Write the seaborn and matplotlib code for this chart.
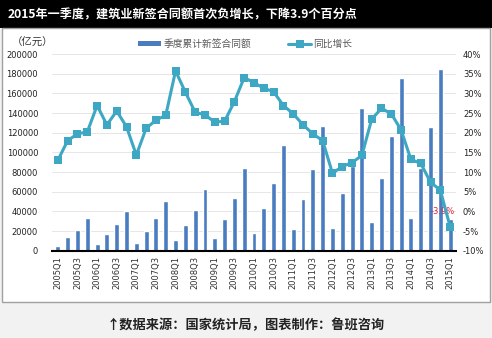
import matplotlib
matplotlib.use("Agg")
import matplotlib.pyplot as plt
from matplotlib.patches import Rectangle, Patch
from matplotlib.ticker import FuncFormatter
import seaborn as sns
import pandas as pd

quarters = ["2005Q1", "2005Q2", "2005Q3", "2005Q4", "2006Q1", "2006Q2", "2006Q3", "2006Q4",
            "2007Q1", "2007Q2", "2007Q3", "2007Q4", "2008Q1", "2008Q2", "2008Q3", "2008Q4",
            "2009Q1", "2009Q2", "2009Q3", "2009Q4", "2010Q1", "2010Q2", "2010Q3", "2010Q4",
            "2011Q1", "2011Q2", "2011Q3", "2011Q4", "2012Q1", "2012Q2", "2012Q3", "2012Q4",
            "2013Q1", "2013Q2", "2013Q3", "2013Q4", "2014Q1", "2014Q2", "2014Q3", "2014Q4",
            "2015Q1"]
contract = [5000, 13500, 21500, 33500, 6500, 16500, 26800, 40500,
            7800, 20000, 32900, 50500, 10500, 26100, 41000, 63000,
            12500, 32200, 53200, 84500, 17600, 43000, 69000, 107500,
            21700, 52200, 83000, 126800, 23400, 58300, 86100, 145400,
            29200, 73600, 117000, 175300, 33200, 83700, 125800, 184800,
            32000]
growth = [13.0, 18.0, 19.7, 20.2, 26.9, 22.0, 25.5, 21.5,
          14.3, 21.1, 23.2, 24.4, 35.7, 30.3, 25.2, 24.5,
          22.7, 22.9, 27.9, 34.0, 32.7, 31.3, 30.4, 26.9,
          24.8, 22.0, 19.7, 18.0, 9.7, 11.4, 12.4, 14.2,
          23.4, 26.2, 24.8, 20.7, 13.2, 12.2, 7.4, 5.4,
          -3.9]
title = "2015年一季度，建筑业新签合同额首次负增长，下降3.9个百分点"
footer = "↑数据来源：国家统计局，图表制作：鲁班咨询"
bar_label = "季度累计新签合同额"
line_label = "同比增长"
unit_label = "（亿元）"

BAR_C = "#4a7dc0"
LINE_C = "#3ea7c4"

sns.set_theme(style="white")
plt.rcParams['font.family'] = ['DejaVu Sans', 'Noto Sans CJK SC']
CJK = ['Noto Sans CJK SC', 'DejaVu Sans']

df = pd.DataFrame({"quarter": quarters, "contract": contract,
                   "growth": growth, "idx": range(len(quarters))})

W, H = 492, 338
fig = plt.figure(figsize=(W / 100, H / 100), dpi=100, facecolor="#f2f2f2")

# title band and chart panel (behind everything)
fig.patches.append(Rectangle((0, 1 - 28 / H), 1, 28 / H, transform=fig.transFigure,
                             facecolor="black", edgecolor="none", zorder=-5))
fig.patches.append(Rectangle((2 / W, 1 - 302 / H), 488 / W, 274 / H, transform=fig.transFigure,
                             facecolor="white", edgecolor="#a0a0a0", linewidth=1.0, zorder=-5))
fig.text(8 / W, 1 - 15 / H, title, color="white", fontsize=8.7, fontweight="bold",
         family=CJK, va="center", ha="left")
fig.text(0.5, 1 - 325 / H, footer, color="#222222", fontsize=9.5, fontweight="bold",
         family=CJK, va="center", ha="center")

ax = fig.add_axes([52 / W, 1 - 250.7 / H, 404 / W, (250.7 - 54) / H])
ax.set_facecolor("none")
sns.barplot(data=df, x="quarter", y="contract", color=BAR_C, saturation=1,
            width=0.5, ax=ax, zorder=2)
ax.set_ylim(0, 200000)
ax.set_yticks(range(0, 200001, 20000))
ax.set_xlim(-0.6, len(quarters) - 0.4)
ax.yaxis.grid(True, color="#e6e6e6", linewidth=0.7)
ax.set_axisbelow(True)
ax.set_xlabel("")
ax.set_ylabel("")
ax.set_xticks(range(0, len(quarters), 2))
ax.set_xticklabels(quarters[::2], rotation=90, fontsize=6, color="#333333")
ax.tick_params(axis="y", labelsize=6, colors="#222222", length=0, pad=10)
ax.tick_params(axis="x", length=0, pad=4)
for s in ["top", "right", "left"]:
    ax.spines[s].set_visible(False)
ax.spines["bottom"].set_color("black")
ax.spines["bottom"].set_linewidth(1.5)
ax.spines["bottom"].set_zorder(5)

ax2 = ax.twinx()
sns.lineplot(data=df, x="idx", y="growth", color=LINE_C, linewidth=2.2,
             marker="s", markersize=5.6, markeredgewidth=0, ax=ax2, zorder=4)
ax2.set_ylim(-10, 40)
ax2.set_yticks(range(-10, 41, 5))
ax2.yaxis.set_major_formatter(FuncFormatter(lambda v, p: f"{int(v)}%"))
ax2.tick_params(axis="y", labelsize=6, colors="#222222", length=0, pad=5)
ax2.set_ylabel("")
ax2.set_xlabel("")
for s in ["top", "right", "left", "bottom"]:
    ax2.spines[s].set_visible(False)
ax2.set_xlim(ax.get_xlim())

# annotation of last value
last = len(growth) - 1
ax2.annotate(f"{growth[last]}%", xy=(last, growth[last]), xytext=(-5, 11),
             textcoords="offset points", ha="center", va="center",
             color="#e0203a", fontsize=6)

# legend
line_h = ax2.get_lines()[0]
handles = [Patch(facecolor=BAR_C, edgecolor="none"), line_h]
leg = fig.legend(handles, [bar_label, line_label], loc="center",
                 bbox_to_anchor=(245 / W, 1 - 44 / H),
                 ncol=2, frameon=False, handlelength=2.4, handleheight=0.55,
                 handletextpad=0.2, columnspacing=3.8, prop={"family": CJK, "size": 7})
for t in leg.get_texts():
    t.set_color("#595959")

fig.text(12 / W, 1 - 43 / H, unit_label, fontsize=7.5, color="#333333", family=CJK,
         va="center", ha="left")

fig.savefig("out.png", dpi=100, facecolor=fig.get_facecolor())
